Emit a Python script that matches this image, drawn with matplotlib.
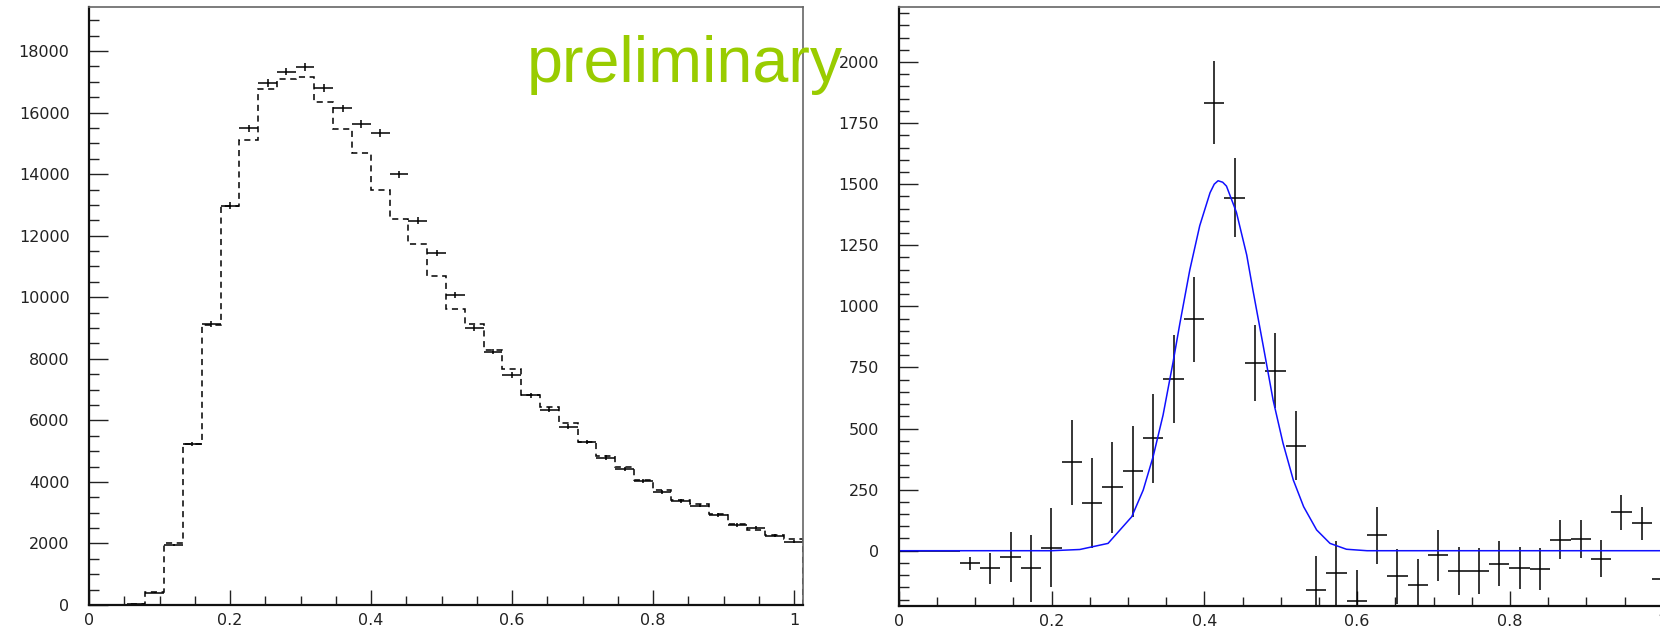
import numpy as np
import matplotlib.pyplot as plt
from matplotlib.ticker import MultipleLocator, FuncFormatter

# binning (same for both panels)
n_bins = 38
x_lo, x_hi = 0.0, 1.0125

# left panel: data (crosses) and MC (dashed histogram)
data_counts = [0, 0, 25, 400, 1950, 5230, 9130, 12970, 15490, 16950, 17330, 17480,
               16790, 16140, 15630, 15330, 14000, 12490, 11430, 10060, 8990, 8230,
               7470, 6820, 6340, 5790, 5290, 4790, 4410, 4040, 3680, 3390, 3230,
               2920, 2600, 2510, 2250, 2060]
data_err = [0, 0, 15, 25, 45, 75, 95, 110, 120, 125, 125, 125, 125, 120, 120, 120,
            115, 110, 105, 100, 95, 90, 85, 80, 80, 75, 70, 70, 65, 65, 60, 60, 55,
            55, 50, 50, 50, 45]
mc_counts = [0, 0, 30, 410, 2020, 5230, 9110, 12970, 15110, 16760, 17080, 17160,
             16330, 15460, 14680, 13480, 12540, 11720, 10690, 9610, 9130, 8290,
             7670, 6830, 6420, 5900, 5310, 4840, 4490, 4060, 3740, 3410, 3280,
             2950, 2630, 2440, 2270, 2130]

# right panel: difference with errors and fitted curve
sig_counts = [0, 0, 0, -52, -72, -25, -72, 12, 362, 194, 260, 325, 460, 702, 948,
              1834, 1445, 768, 737, 429, -160, -91, -206, 63, -104, -142, -19, -83,
              -82, -53, -70, -75, 45, 49, -33, 157, 112, -117]
sig_err = [0, 0, 0, 27, 63, 102, 136, 161, 174, 184, 186, 187, 181, 179, 174, 170,
           163, 155, 153, 141, 138, 130, 127, 117, 113, 109, 105, 100, 94, 93, 87,
           85, 80, 78, 75, 73, 68, 65]
fit_x = [0.0, 0.10, 0.20, 0.237, 0.274, 0.305, 0.320, 0.333, 0.346, 0.359, 0.368,
         0.381, 0.394, 0.4075, 0.413, 0.418, 0.424, 0.429, 0.442, 0.4555, 0.464,
         0.477, 0.490, 0.503, 0.5165, 0.530, 0.547, 0.5645, 0.586, 0.613, 0.70,
         0.85, 1.0125]
fit_y = [0, 0, 0, 5, 30, 139, 248, 385, 555, 770, 930, 1149, 1330, 1465, 1500, 1514,
         1508, 1492, 1385, 1210, 1060, 840, 617, 440, 289, 180, 85, 30, 6, 0, 0, 0, 0]

edges = np.linspace(x_lo, x_hi, n_bins + 1)
centers = 0.5 * (edges[1:] + edges[:-1])
half = 0.5 * (edges[1] - edges[0])

W, H = 1660, 626
fig = plt.figure(figsize=(W / 100, H / 100), dpi=100)
ax1 = fig.add_axes([89 / W, 1 - 605 / H, 714 / W, 598 / H])
ax2 = fig.add_axes([898.7 / W, 1 - 605.7 / H, 773.6 / W, 598.7 / H])

fmt = FuncFormatter(lambda v, p: '%g' % round(v, 6))


def root_style(ax, ymaj, ymin_):
    for s in ['left', 'bottom']:
        ax.spines[s].set_linewidth(1.6)
        ax.spines[s].set_color('#111111')
    for s in ['top', 'right']:
        ax.spines[s].set_linewidth(1.2)
        ax.spines[s].set_color('#666666')
    ax.xaxis.set_major_locator(MultipleLocator(0.2))
    ax.xaxis.set_minor_locator(MultipleLocator(0.05))
    ax.yaxis.set_major_locator(MultipleLocator(ymaj))
    ax.yaxis.set_minor_locator(MultipleLocator(ymin_))
    ax.xaxis.set_major_formatter(fmt)
    ax.yaxis.set_major_formatter(fmt)
    ax.tick_params(axis='x', which='major', direction='in', length=11, width=1,
                   color='#222222', pad=6, labelsize=11.5, labelcolor='#222222')
    ax.tick_params(axis='x', which='minor', direction='in', length=6.5, width=1,
                   color='#222222')
    ax.tick_params(axis='y', which='major', direction='in', length=14, width=1,
                   color='#222222', pad=14, labelsize=11.5, labelcolor='#222222')
    ax.tick_params(axis='y', which='minor', direction='in', length=7, width=1,
                   color='#222222')


# left panel
ax1.stairs(mc_counts, edges, baseline=0, color='black', lw=1.1,
           linestyle=(0, (4, 3)))
ax1.errorbar(centers, data_counts, xerr=half, yerr=data_err, fmt='none',
             ecolor='black', elinewidth=1.1, capsize=0)
ax1.set_xlim(x_lo, x_hi)
ax1.set_ylim(0, 19430)
root_style(ax1, 2000, 500)

# right panel
ax2.errorbar(centers, sig_counts, xerr=half, yerr=sig_err, fmt='none',
             ecolor='black', elinewidth=1.1, capsize=0)
ax2.plot(fit_x, fit_y, color='#1010ff', lw=1.1)
ax2.set_xlim(x_lo, x_hi)
ax2.set_ylim(-225, 2225)
root_style(ax2, 250, 50)

fig.text(526.7 / W, 1 - 81.7 / H, 'preliminary', color='#99cc00', fontsize=46.5,
         family='Liberation Sans', va='baseline', ha='left', zorder=10)

fig.savefig('out.png', dpi=100)
